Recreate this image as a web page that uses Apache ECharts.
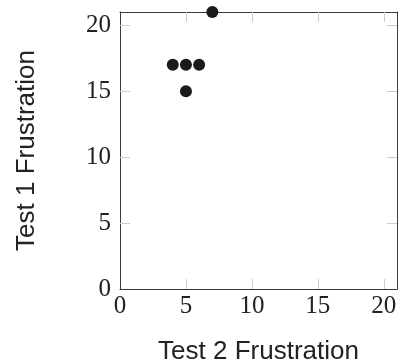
<!DOCTYPE html>
<html>
<head>
<meta charset="utf-8">
<script src="https://cdn.jsdelivr.net/npm/echarts@6/dist/echarts.min.js"></script>
<style>
  html, body { margin: 0; padding: 0; background: #fff; }
  #chart { width: 400px; height: 362px; }
</style>
</head>
<body>
<div id="chart"></div>
<script>
// test 2 frustration (x), test 1 frustration (y)
const test2 = [4, 5, 6, 5, 7];
const test1 = [17, 17, 17, 15, 21];
const tickValues = [0, 5, 10, 15, 20];

const points = test2.map((x, i) => [x, test1[i]]);

const chart = echarts.init(document.getElementById('chart'));

const serif = '"Liberation Serif", "DejaVu Serif", serif';
const sans = '"Liberation Sans", Arial, sans-serif';

function baseAxis(pos, showLabels, name) {
  return {
    type: 'value',
    position: pos,
    min: 0,
    max: 21,
    interval: 5,
    name: showLabels ? name : '',
    nameLocation: 'middle',
    nameTextStyle: { fontFamily: sans, fontSize: 26, color: '#222' },
    axisLine: { show: true, onZero: false, lineStyle: { color: '#3a3a3a', width: 1 } },
    splitLine: { show: false },
    axisTick: {
      show: true,
      inside: true,
      length: 10,
      customValues: tickValues.slice(1),
      lineStyle: { color: '#cccccc', width: 1 }
    },
    axisLabel: {
      show: showLabels,
      fontFamily: serif,
      fontSize: 25,
      color: '#222',
      customValues: tickValues
    }
  };
}

const xBottom = baseAxis('bottom', true, 'Test 2 Frustration');
xBottom.nameGap = 50;
xBottom.axisLabel.margin = 5;
const xTop = baseAxis('top', false, '');
const yLeft = baseAxis('left', true, 'Test 1 Frustration');
yLeft.nameGap = 80;
yLeft.axisLabel.margin = 9;
const yRight = baseAxis('right', false, '');

chart.setOption({
  animation: false,
  grid: {
    left: 120,
    top: 12,
    right: 3,
    bottom: 73,
    containLabel: false,
    outerBoundsMode: 'none'
  },
  xAxis: [xBottom, xTop],
  yAxis: [yLeft, yRight],
  series: [
    {
      type: 'scatter',
      data: points,
      symbolSize: 12,
      clip: false,
      itemStyle: { color: '#1a1a1a', opacity: 1 }
    }
  ]
});
</script>
</body>
</html>
